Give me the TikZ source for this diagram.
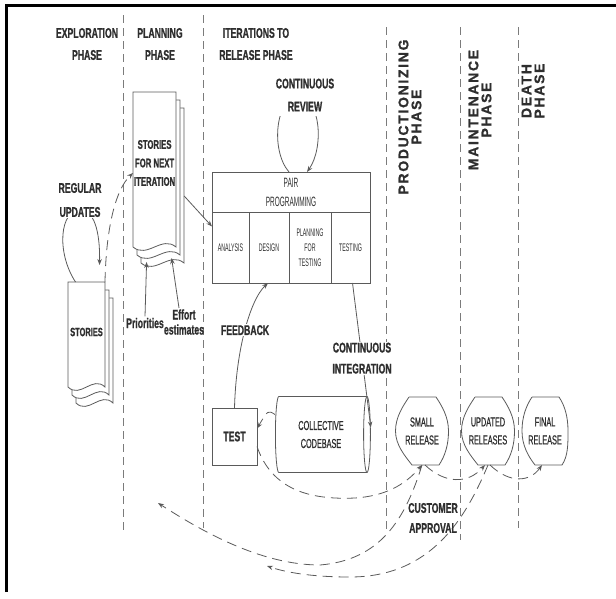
\documentclass[tikz,border=0pt]{standalone}
\usepackage{fontspec}
\setmainfont{Liberation Sans}
\newfontfamily\lblfnt[FakeStretch=0.62, FakeBold=1]{Liberation Sans Bold}
\newfontfamily\cellfnt[FakeStretch=0.48]{Liberation Sans}
\newfontfamily\relfnt[FakeStretch=0.56, FakeBold=0.6]{Liberation Sans}
\newfontfamily\phasefnt[LetterSpace=12, FakeBold=1]{Liberation Sans Bold}
\usetikzlibrary{arrows.meta,positioning,calc,shapes.geometric}
\definecolor{ink}{HTML}{2E2E2E}
\definecolor{wire}{HTML}{5A5A5A}

% stack of three pages with wavy bottoms: x, y, width, height of the front page
\newcommand{\docstack}[4]{%
  \foreach \k in {2,1,0}
    \draw[docline] ($(#1,#2)+(4*\k,8*\k)$) -- ++(#3,0) -- ++(0,#4)
      .. controls +(-#3/3,-12) and +(#3/3,12) .. ++(-#3,0) -- cycle;}
% outline of a release round its node
\newcommand{\relshape}[1]{%
  \draw[relline] ([xshift=-13pt]#1.north) -- ([xshift=14pt]#1.north)
    .. controls +(6,9) and +(0,-14) .. (#1.east)
    .. controls +(0,14) and +(6,-9) .. ([xshift=17pt]#1.south)
    -- ([xshift=-10pt]#1.south)
    .. controls +(-7,-9) and +(0,14) .. (#1.west)
    .. controls +(0,-14) and +(-6,9) .. ([xshift=-13pt]#1.north);}

\begin{document}
\begin{tikzpicture}[x=1pt, y=-1pt, >={Stealth[length=6pt,width=4.5pt]}, line width=0.8pt,
  lbl/.style={font=\lblfnt\fontsize{14}{21}\selectfont, text=ink, align=center, inner sep=1pt},
  phase/.style={font=\phasefnt\fontsize{14}{13}\selectfont, text=ink, align=center, rotate=90},
  box/.style={draw=wire, outer sep=0pt, inner sep=0pt, align=center, text=ink},
  cell/.style={font=\cellfnt\fontsize{11}{15}\selectfont},
  ppfont/.style={font=\cellfnt\fontsize{13.5}{19}\selectfont},
  rel/.style={minimum height=68, inner sep=0pt, outer sep=0pt, align=center, text=ink,
    font=\relfnt\fontsize{13}{18}\selectfont},
  relline/.style={draw=wire},
  docline/.style={draw=wire, fill=white},
  sep/.style={draw=wire!80, line width=0.7pt, dash pattern=on 8pt off 5pt},
  flow/.style={draw=wire, dash pattern=on 10pt off 6pt},
  wire/.style={draw=wire}]

\useasboundingbox (0,0) rectangle (616,598);
\draw[line width=3pt] (6,592) -- (6,5) -- (616,5);

% phase borders
\foreach \x/\a/\b in {123/15/530, 203/15/528, 386/27/530, 460/27/540, 518/27/528}
  \draw[sep] (\x,\a) -- (\x,\b);

% phase titles
\node[lbl, font=\lblfnt\fontsize{14}{22}\selectfont] (hexp) at (87,44) {EXPLORATION\\PHASE};
\node[lbl, font=\lblfnt\fontsize{14}{22}\selectfont] (hplan) at (160,44) {PLANNING\\PHASE};
\node[lbl, font=\lblfnt\fontsize{14}{22}\selectfont] (hiter) at (256,44) {ITERATIONS TO\\RELEASE PHASE};
\node[phase] (hprod) at (410,117) {PRODUCTIONIZING\\PHASE};
\node[phase] (hmaint) at (480,110) {MAINTENANCE\\PHASE};
\node[phase] (hdeath) at (533,91) {DEATH\\PHASE};

% story cards
\docstack{68}{282}{37}{105}
\node[box, draw=none, lbl, font=\lblfnt\fontsize{12}{15}\selectfont,
  minimum width=37, minimum height=100, anchor=north west] (stories) at (68,282) {STORIES};
\docstack{133}{92}{43}{155}
\node[box, draw=none, lbl, font=\lblfnt\fontsize{12.5}{18.5}\selectfont,
  minimum width=43, minimum height=142, anchor=north west] (nextit) at (133,92) {STORIES\\FOR NEXT\\ITERATION};

\node[lbl] (prio) at (145,323) {Priorities};
\node[lbl, font=\lblfnt\fontsize{14}{15}\selectfont] (eff) at (184,322) {Effort\\estimates};

% pair programming
\node[box, ppfont, minimum width=158, minimum height=40] (pp) at (291,192) {PAIR\\PROGRAMMING};
\node[box, cell, minimum width=37, minimum height=71, anchor=north west] (ana) at (pp.south west) {ANALYSIS};
\node[box, cell, minimum width=40, minimum height=71, right=0pt of ana] (des) {DESIGN};
\node[box, cell, minimum width=42, minimum height=71, right=0pt of des] (pft) {PLANNING\\FOR\\TESTING};
\node[box, cell, minimum width=39, minimum height=71, right=0pt of pft] (tst) {TESTING};

\node[box, lbl, minimum width=45, minimum height=57] (test) at (234.5,436.5) {TEST};
\node[cylinder, draw=wire, shape aspect=0.25, minimum width=76, minimum height=95, inner sep=0pt,
  align=center, text=ink, font=\relfnt\fontsize{13}{18}\selectfont] (cb) at (321,434.5) {COLLECTIVE\\CODEBASE};

% releases
\node[rel, minimum width=53] (sr) at (422,431) {SMALL\\RELEASE};
\node[rel, minimum width=53] (ur) at (488,431) {UPDATED\\RELEASES};
\node[rel, minimum width=46] (fr) at (545,431) {FINAL\\RELEASE};
\relshape{sr}
\relshape{ur}
\relshape{fr}
\coordinate (toplan) at (158,503);
\coordinate (tobuild) at (267,566);

% connectors
\draw[wire, ->] ([xshift=-11pt]stories.north)
  .. controls (56,252) and (60,210) .. (80,210) .. controls (97,210) and (100,240) .. ([xshift=13pt,yshift=17pt]stories.north);
\node[lbl, fill=white, font=\lblfnt\fontsize{14}{24}\selectfont] (regup) at (80,200) {REGULAR\\UPDATES};
\draw[flow, ->] (stories.north east) .. controls (106,230) and (115,190) .. ([yshift=-10pt]nextit.west);
\draw[wire, ->] ([xshift=8pt,yshift=-33pt]nextit.east) -- ([yshift=21pt]ana.west);
\draw[wire, ->] (prio.north) -- ([xshift=-8pt,yshift=-28pt]nextit.south);
\draw[wire, ->] ([xshift=-5pt]eff.north) -- ([xshift=17pt,yshift=-24pt]nextit.south);

\draw[wire, ->] ([xshift=-2pt]pp.north) .. controls (270,150) and (276,97) .. (298,97)
  .. controls (321,97) and (324,148) .. ([xshift=16pt]pp.north);
\node[lbl, fill=white, inner ysep=5pt, font=\lblfnt\fontsize{14}{23}\selectfont] (crev) at (305,95) {CONTINUOUS\\REVIEW};

\draw[wire, ->] (test.north) .. controls (236,350) and (250,300) .. node[lbl, fill=white, pos=0.5] (fb) {FEEDBACK} ([xshift=-1pt]des.south);
\draw[wire, ->] ([xshift=2pt]tst.south) -- node[lbl, fill=white, pos=0.52] (ci) {CONTINUOUS\\INTEGRATION} ([yshift=7pt]cb.east);
\draw[flow, ->] ([yshift=20pt]cb.west) .. controls (268,410) .. ([yshift=8pt]test.east);
\draw[flow, ->] ([yshift=-10pt]test.east) .. controls (272,490) and (310,500) .. (355,498)
  .. controls (385,496) and (405,485) .. (sr.south);
\draw[flow, ->] ([xshift=3pt]sr.south) .. controls (445,484) and (468,484) .. ([xshift=-3pt]ur.south);
\draw[flow, ->] ([xshift=2pt]ur.south) .. controls (510,484) and (530,482) .. ([xshift=-3pt]fr.south);

% customer approval
\draw[flow, ->] (sr.south) .. controls (405,520) and (380,560) .. (320,565) .. controls (260,565) and (200,530) .. (toplan);
\draw[flow, ->] (ur.south) .. controls (465,520) and (430,577) .. (350,577) .. controls (310,577) and (285,572) .. (tobuild);
\node[lbl, font=\lblfnt\fontsize{14}{20}\selectfont] (cust) at (433,518) {CUSTOMER\\APPROVAL};
\end{tikzpicture}
\end{document}
